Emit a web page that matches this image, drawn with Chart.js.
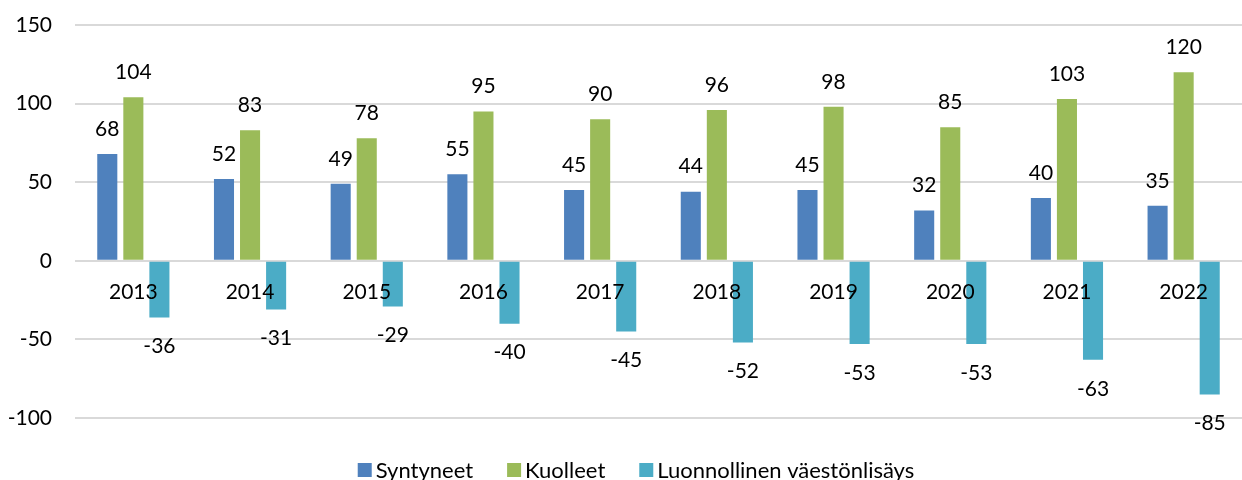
<!DOCTYPE html>
<html>
<head>
<meta charset="utf-8">
<script src="https://cdn.jsdelivr.net/npm/chart.js@4"></script>
<style>
  html, body { margin: 0; padding: 0; background: #fff; }
  #wrap { width: 1242px; height: 480px; }
</style>
</head>
<body>
<div id="wrap"><canvas id="popChart"></canvas></div>
<script>
// data
const years = ['2013', '2014', '2015', '2016', '2017', '2018', '2019', '2020', '2021', '2022'];
const syntyneet = [68, 52, 49, 55, 45, 44, 45, 32, 40, 35];
const kuolleet = [104, 83, 78, 95, 90, 96, 98, 85, 103, 120];
const lisays = [-36, -31, -29, -40, -45, -52, -53, -53, -63, -85];
const yTicks = [-100, -50, 0, 50, 100, 150];

const FONT = 'Lato, Carlito, "Liberation Sans", sans-serif';

// year labels sit just under the zero line, values above / below each bar
const labelPlugin = {
  id: 'labelPlugin',
  afterDatasetsDraw(chart) {
    const ctx = chart.ctx;
    const xs = chart.scales.x;
    const ys = chart.scales.y;
    ctx.save();
    ctx.fillStyle = '#000';
    ctx.textAlign = 'center';
    ctx.textBaseline = 'middle';
    ctx.font = '21px ' + FONT;
    chart.data.datasets.forEach((ds, i) => {
      const meta = chart.getDatasetMeta(i);
      meta.data.forEach((bar, j) => {
        const v = ds.data[j];
        const y = v >= 0 ? bar.y - 25 : bar.y + 29;
        ctx.fillText(String(v), bar.x, y);
      });
    });
    const zeroY = ys.getPixelForValue(0);
    years.forEach((yr, j) => {
      ctx.fillText(yr, xs.getPixelForValue(j), zeroY + 31);
    });
    ctx.restore();
  }
};

// legend drawn by hand: small square, tight gap, wide spacing between items
const legendPlugin = {
  id: 'legendPlugin',
  afterDraw(chart) {
    const ctx = chart.ctx;
    const box = 14, gap = 4, spacing = 34;
    ctx.save();
    ctx.font = '22px ' + FONT;
    ctx.textBaseline = 'middle';
    ctx.textAlign = 'left';
    const items = chart.data.datasets.map(ds => ({
      text: ds.label, color: ds.backgroundColor, w: ctx.measureText(ds.label).width
    }));
    let total = 0;
    items.forEach((it, i) => { total += box + gap + it.w + (i ? spacing : 0); });
    let x = chart.width / 2 + 15 - total / 2;
    const y = 470;
    items.forEach(it => {
      ctx.fillStyle = it.color;
      ctx.fillRect(x, y - box / 2, box, box);
      ctx.fillStyle = '#000';
      ctx.fillText(it.text, x + box + gap, y + 1);
      x += box + gap + it.w + spacing;
    });
    ctx.restore();
  }
};

new Chart(document.getElementById('popChart').getContext('2d'), {
  type: 'bar',
  data: {
    labels: years,
    datasets: [
      { label: 'Syntyneet', data: syntyneet, backgroundColor: '#4F81BD' },
      { label: 'Kuolleet', data: kuolleet, backgroundColor: '#9BBB59' },
      { label: 'Luonnollinen väestönlisäys', data: lisays, backgroundColor: '#4BACC6' }
    ]
  },
  options: {
    responsive: true,
    maintainAspectRatio: false,
    animation: false,
    layout: { padding: { top: 25, right: 0, bottom: 0, left: 0 } },
    datasets: {
      bar: { categoryPercentage: 0.67, barPercentage: 0.77 }
    },
    plugins: {
      tooltip: { enabled: false },
      legend: { display: false }
    },
    scales: {
      x: {
        grid: { display: false },
        border: { display: false },
        ticks: { display: false },
        afterFit(scale) { scale.height = 62; }
      },
      y: {
        min: yTicks[0],
        max: yTicks[yTicks.length - 1],
        afterBuildTicks(scale) { scale.ticks = yTicks.map(v => ({ value: v })); },
        afterFit(scale) {
          scale.width = 75;
          scale.paddingTop = 0;
          scale.paddingBottom = 0;
        },
        border: { display: false },
        grid: { color: '#D9D9D9', lineWidth: 2, drawTicks: false },
        ticks: {
          font: { family: FONT, size: 21 },
          color: '#000',
          padding: 23
        }
      }
    }
  },
  plugins: [labelPlugin, legendPlugin]
});
</script>
</body>
</html>
